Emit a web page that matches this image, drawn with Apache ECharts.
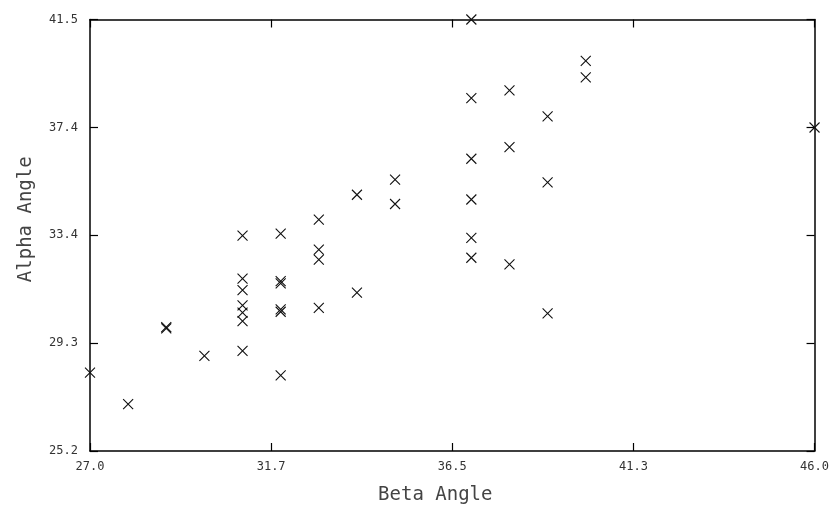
<!DOCTYPE html>
<html>
<head>
<meta charset="utf-8">
<script src="https://cdn.jsdelivr.net/npm/echarts@6/dist/echarts.min.js"></script>
<style>
  html, body { margin: 0; padding: 0; background: #fff; }
  #chart { width: 832px; height: 510px; }
</style>
</head>
<body>
<div id="chart"></div>
<script>
// beta / alpha pairs
var betaValues = [27, 28, 29, 29, 30,
    31, 31, 31, 31, 31, 31, 31,
    32, 32, 32, 32, 32, 32,
    33, 33, 33, 33,
    34, 34, 35, 35,
    37, 37, 37, 37, 37, 37,
    38, 38, 38,
    39, 39, 39,
    40, 40, 46];
var alphaValues = [28.16, 26.97, 29.88, 29.83, 28.79,
    33.34, 31.71, 31.28, 30.70, 30.43, 30.11, 28.98,
    33.41, 31.62, 31.53, 30.55, 30.46, 28.06,
    33.94, 32.81, 32.43, 30.61,
    34.88, 31.18, 35.45, 34.53,
    41.5, 38.53, 36.24, 34.70, 33.25, 32.50,
    38.82, 36.68, 32.25,
    37.84, 35.35, 30.40,
    39.94, 39.31, 37.42];

var xTickLabels = ['27.0', '31.7', '36.5', '41.3', '46.0'];
var yTickLabels = ['25.2', '29.3', '33.4', '37.4', '41.5'];
var xMin = 27.0, xMax = 46.0, xStep = 4.75;
var yMin = 25.2, yMax = 41.5, yStep = 4.075;

var points = [];
for (var i = 0; i < betaValues.length; i++) {
    points.push([betaValues[i], alphaValues[i]]);
}

var lineStyle = { color: '#000', width: 1.5 };
var tickStyle = { show: true, inside: true, length: 8, lineStyle: { color: '#000', width: 1.2 } };
var labelFont = { fontFamily: 'DejaVu Sans Mono', fontSize: 12, color: '#333' };

var myChart = echarts.init(document.getElementById('chart'));
var option = {
    backgroundColor: '#fff',
    animation: false,
    grid: { left: 90, right: 17, top: 19.5, bottom: 58 },
    xAxis: [
        {
            type: 'value', min: xMin, max: xMax, interval: xStep,
            name: 'Beta Angle', nameLocation: 'middle', nameGap: 35,
            nameTextStyle: { fontFamily: 'DejaVu Sans Mono', fontSize: 19, color: '#444', padding: [0, 34, 0, 0] },
            axisLine: { show: true, onZero: false, lineStyle: lineStyle },
            axisTick: tickStyle,
            splitLine: { show: false },
            axisLabel: Object.assign({
                margin: 10,
                formatter: function (v) { return xTickLabels[Math.round((v - xMin) / xStep)]; }
            }, labelFont)
        },
        {
            type: 'value', min: xMin, max: xMax, interval: xStep, position: 'top',
            axisLine: { show: true, onZero: false, lineStyle: lineStyle },
            axisTick: tickStyle,
            splitLine: { show: false },
            axisLabel: { show: false }
        }
    ],
    yAxis: [
        {
            type: 'value', min: yMin, max: yMax, interval: yStep,
            name: 'Alpha Angle', nameLocation: 'middle', nameGap: 54, nameRotate: 90,
            nameTextStyle: { fontFamily: 'DejaVu Sans Mono', fontSize: 19, color: '#444', padding: [0, 0, 0, 32] },
            axisLine: { show: true, onZero: false, lineStyle: lineStyle },
            axisTick: tickStyle,
            splitLine: { show: false },
            axisLabel: Object.assign({
                margin: 12,
                formatter: function (v) { return yTickLabels[Math.round((v - yMin) / yStep)]; }
            }, labelFont)
        },
        {
            type: 'value', min: yMin, max: yMax, interval: yStep, position: 'right',
            axisLine: { show: true, onZero: false, lineStyle: lineStyle },
            axisTick: tickStyle,
            splitLine: { show: false },
            axisLabel: { show: false }
        }
    ],
    series: [
        {
            type: 'scatter',
            data: points,
            clip: false,
            symbol: 'path://M0,0L10,10M10,0L0,10',
            symbolSize: 10,
            itemStyle: { color: 'none', borderColor: '#111', borderWidth: 1.1, opacity: 1 }
        }
    ]
};

myChart.setOption(option);
</script>
</body>
</html>
